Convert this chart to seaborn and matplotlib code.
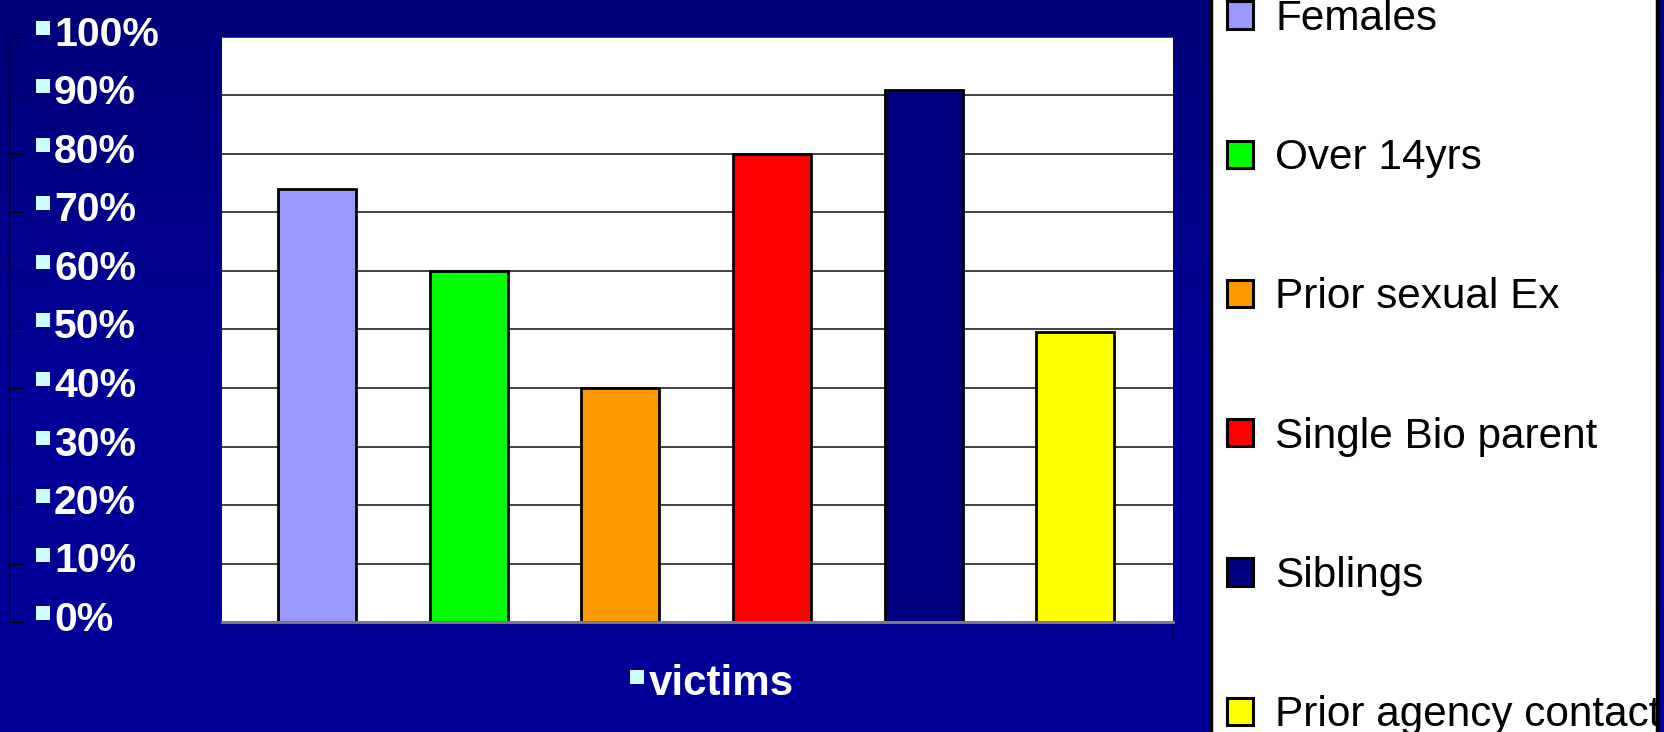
import numpy as np
import pandas as pd
import seaborn as sns
import matplotlib.pyplot as plt
import matplotlib.transforms as mtransforms
from matplotlib.patches import Rectangle
from matplotlib.colors import LinearSegmentedColormap

# data
categories = ["Females", "Over 14yrs", "Prior sexual Ex", "Single Bio parent",
              "Siblings", "Prior agency contact"]
values = [0.74, 0.60, 0.40, 0.80, 0.91, 0.495]
colors = ["#9999FF", "#00FF00", "#FF9900", "#FF0000", "#000080", "#FFFF00"]
y_ticks = [0.0, 0.1, 0.2, 0.3, 0.4, 0.5, 0.6, 0.7, 0.8, 0.9, 1.0]
y_labels = ["0%", "10%", "20%", "30%", "40%", "50%", "60%", "70%", "80%", "90%", "100%"]
x_label = "victims"

W, H = 1664, 732
sns.set_theme(style="white")
plt.rcParams["font.family"] = ["Liberation Sans", "DejaVu Sans"]

fig = plt.figure(figsize=(W / 100, H / 100), dpi=100)
fig.patch.set_facecolor("#000090")

# dark blue slide background
bg = fig.add_axes([0, 0, 1, 1], zorder=-10)
grad = np.linspace(0, 1, 256).reshape(-1, 1)
cmap = LinearSegmentedColormap.from_list("bg", ["#000078", "#000096", "#000099"])
bg.imshow(grad, aspect="auto", cmap=cmap, extent=[0, 1, 0, 1])
bg.axis("off")

# white legend panel on the right
fig.patches.append(Rectangle((1211 / W, -0.05), (1657 - 1211) / W, 1.1,
                             transform=fig.transFigure, facecolor="white",
                             edgecolor="black", lw=2.5, zorder=1))

ax = fig.add_axes([222 / W, (H - 622) / H, (1173 - 222) / W, 585 / H])
ax.set_facecolor("white")

df = pd.DataFrame({"group": categories, "value": values})
sns.barplot(data=df, x="group", y="value", hue="group", palette=colors,
            width=0.514, edgecolor="black", linewidth=2, saturation=1,
            ax=ax, legend=True)

# y labels with little square bullets (drawn off the left of the plot)
lab_tf = mtransforms.blended_transform_factory(fig.transFigure, ax.transData)
off_txt = mtransforms.ScaledTranslation(0, -9 / 100, fig.dpi_scale_trans)
off_bul = mtransforms.ScaledTranslation(0, 9 / 100, fig.dpi_scale_trans)
for v, lab in zip(y_ticks, y_labels):
    ax.text(54 / W, v, lab, transform=lab_tf + off_txt, ha="left", va="baseline",
            color="white", fontsize=29.5, fontweight="bold", clip_on=False)
ax.plot([43 / W] * len(y_ticks), y_ticks, ls="none", marker="s", ms=10, mew=0,
        color="#CCFFFF", transform=lab_tf + off_bul, clip_on=False)

# x label "victims"
ax.text(0.5, 0, x_label,
        transform=ax.transAxes + mtransforms.ScaledTranslation(-49 / 100, -73 / 100, fig.dpi_scale_trans),
        ha="left", va="baseline", color="white", fontsize=30.3, fontweight="bold")
ax.plot([0.5], [0], ls="none", marker="s", ms=9.5, mew=0, color="#CCFFFF",
        transform=ax.transAxes + mtransforms.ScaledTranslation(-61 / 100, -55 / 100, fig.dpi_scale_trans),
        clip_on=False)

ax.set_xlim(-0.626, 5.643)
ax.set_ylim(0, 1)
ax.set_yticks(y_ticks)
ax.yaxis.grid(True, color="#222222", lw=1.2)
ax.set_axisbelow(True)
ax.set_xlabel("")
ax.set_ylabel("")
for s in ["top", "right"]:
    ax.spines[s].set_visible(False)
ax.spines["bottom"].set_color("#808080")
ax.spines["bottom"].set_linewidth(2)
ax.spines["left"].set_position(("outward", (222 - 9) * 0.72))
ax.spines["left"].set_color("black")
ax.spines["left"].set_linewidth(1)
ax.tick_params(axis="y", direction="in", length=10, width=1, color="black",
               left=True, labelleft=False)
ax.set_xticks([5.643])
ax.set_xticklabels([""])
ax.tick_params(axis="x", direction="out", length=12, width=1, color="black", bottom=True)

# legend
handles, labels = ax.get_legend_handles_labels()
ax.get_legend().remove()
leg = fig.legend(handles, labels, loc="upper left", bbox_to_anchor=(1227 / W, 1 + 1 / H),
                 frameon=False, fontsize=30.4, labelspacing=2.35, handlelength=0.62,
                 handleheight=0.62, handletextpad=0.52, borderpad=0, borderaxespad=0)
for h in leg.legend_handles:
    h.set_edgecolor("black")
    h.set_linewidth(2.2)
for t in leg.get_texts():
    t.set_color("black")

fig.savefig("out.png", dpi=100, facecolor=fig.get_facecolor())
